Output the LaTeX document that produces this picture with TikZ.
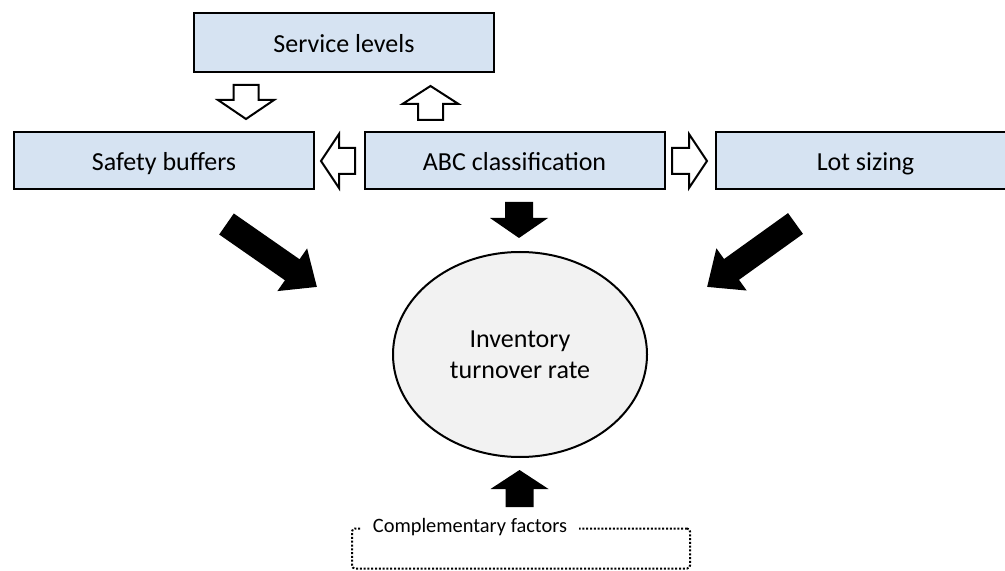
\documentclass[tikz,border=0pt]{standalone}
\usepackage{fontspec}
\setmainfont{Carlito}
\usetikzlibrary{calc,shapes.geometric}

\definecolor{boxblue}{RGB}{214,227,242}
\definecolor{ovalgrey}{RGB}{242,242,242}

% block arrow from tail #2 to tip #3: shaft half width #4, head half width #5, head length #6
\newcommand\blockarrow[6][]{%
  \path[#1] let \p1=($(#3)-(#2)$), \n1={atan2(\y1,\x1)}, \n2={veclen(\x1,\y1)} in
    [shift={(#2)}, rotate=\n1]
    (0pt,-#4) -- ({\n2-#6},-#4) -- ({\n2-#6},-#5) -- ({\n2+0pt},0pt)
    -- ({\n2-#6},#5) -- ({\n2-#6},#4) -- (0pt,#4) -- cycle;
}

\begin{document}
\begin{tikzpicture}[x=0.5pt, y=-0.5pt,
    every node/.style={font=\fontsize{13}{15.5}\selectfont},
    lever/.style={draw, line width=1pt, fill=boxblue, minimum width=150pt,
      minimum height=28.5pt, inner sep=0pt, text height=10.4pt, text depth=0pt},
    hollow/.style={draw, line width=1pt, fill=white, line join=miter},
    solid/.style={fill=black}]

    \clip (0,0) rectangle (1005,571);

    % Levers
    \node[lever, minimum height=29.5pt] (svc) at (344,42.5) {Service levels};
    \node[lever] (safety) at (164,160.5) {Safety buffers};
    \node[lever] (abc) at (514.5,160.5) {ABC classification};
    \node[lever] (lot) at (865.5,160.5) {Lot sizing};

    % Target figure
    \node[ellipse, draw, line width=1pt, fill=ovalgrey, minimum width=127pt,
          minimum height=102.5pt, align=center] (turnover) at (520,354.5)
          {Inventory\\turnover rate};

    % Complementary factors (dotted frame, label on its top edge)
    \node[draw, line width=1pt, dash pattern=on 1pt off 0.9pt,
          rounded corners=1.5pt, minimum width=169pt, minimum height=20pt]
          (compl) at (521,548.5) {};
    \node[fill=white, inner xsep=6pt, inner ysep=1pt,
          font=\fontsize{10.2}{12}\selectfont] (compllabel) at (470,527)
          {Complementary factors};

    % Arrow end points
    \coordinate (svc-out) at (246,85);    \coordinate (safety-in) at (246,119);
    \coordinate (abc-up) at (430.5,120);  \coordinate (svc-in) at (430.5,86);
    \coordinate (abc-left) at (355,161);  \coordinate (safety-side) at (321,161);
    \coordinate (abc-right) at (672,161); \coordinate (lot-side) at (707,161);
    \coordinate (abc-down) at (519,202);  \coordinate (turnover-top) at (519,238);
    \coordinate (compl-up) at (519.5,507); \coordinate (turnover-bottom) at (519.5,470);
    \coordinate (safety-out) at (226.5,224); \coordinate (turnover-west) at (317,287);
    \coordinate (lot-out) at (795.5,223.5);  \coordinate (turnover-east) at (707,287);

    % Interactions between the levers
    \blockarrow[hollow]{svc-out}{safety-in}{6.25pt}{14pt}{9.5pt}
    \blockarrow[hollow]{abc-up}{svc-in}{6.25pt}{14pt}{9pt}
    \blockarrow[hollow]{abc-left}{safety-side}{6.5pt}{13.5pt}{9pt}
    \blockarrow[hollow]{abc-right}{lot-side}{6.5pt}{13.5pt}{9pt}

    % Effects on the turnover rate
    \blockarrow[solid]{abc-down}{turnover-top}{7pt}{14.5pt}{10pt}
    \blockarrow[solid]{compl-up}{turnover-bottom}{7pt}{14.5pt}{9.5pt}
    \blockarrow[solid]{safety-out}{turnover-west}{6.4pt}{13pt}{15pt}
    \blockarrow[solid]{lot-out}{turnover-east}{6.4pt}{13pt}{15pt}

\end{tikzpicture}
\end{document}
